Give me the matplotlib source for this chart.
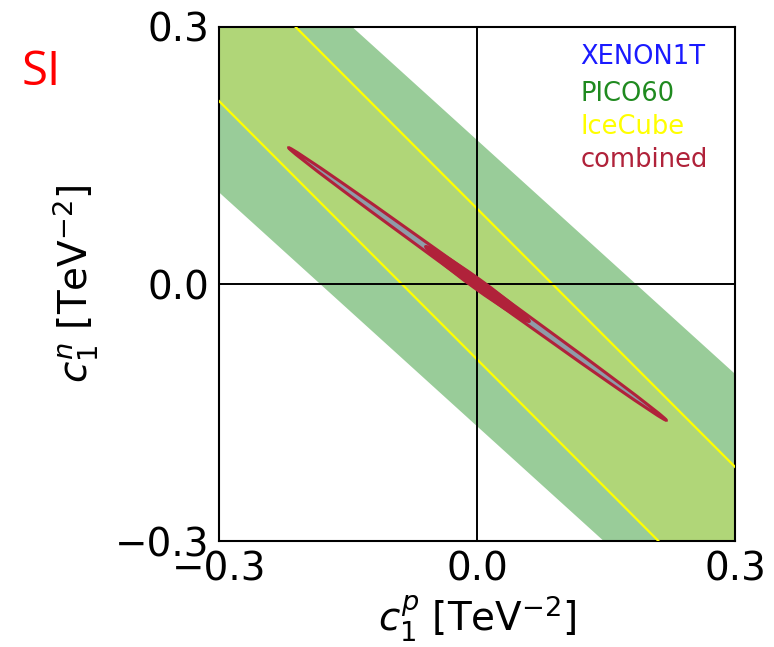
import numpy as np
import matplotlib.pyplot as plt
from matplotlib.patches import Ellipse

# limits (TeV^-2)
lim = [-0.3, 0.3]
ticks = [-0.3, 0.0, 0.3]

# PICO60 band: c_n = slope * c_p + b, b between the two edges
pico_slope = -0.91
pico_edges = [-0.166, 0.168]

# IceCube lines
ice_slope = -1.005
ice_edges = [-0.088, 0.088]

# combined region: tips of the thin ellipse, half width, solid core extent
comb_tip1 = (-0.219, 0.159)
comb_tip2 = (0.220, -0.159)
comb_halfwidth = 0.0048
comb_core = 0.075

labels = ['XENON1T', 'PICO60', 'IceCube', 'combined']
label_cols = ['#1a1aff', '#1f8a1f', '#ffff00', '#b0223a']

fig = plt.figure(figsize=(7.74, 6.47), dpi=100)
ax = fig.add_axes([0.283, 0.1638, 0.6667, 0.7945])

x = np.array(lim)
ax.fill_between(x, pico_slope * x + pico_edges[0], pico_slope * x + pico_edges[1],
                color='#99cc99', lw=0, zorder=1)
ax.fill_between(x, ice_slope * x + ice_edges[0], ice_slope * x + ice_edges[1],
                color='#b0d678', lw=0, zorder=2)
for b in ice_edges:
    ax.plot(x, ice_slope * x + b, color='#ffff00', lw=1.6, zorder=3)

ax.axhline(0, color='k', lw=1.4, zorder=4)
ax.axvline(0, color='k', lw=1.4, zorder=4)

cx = (comb_tip1[0] + comb_tip2[0]) / 2
cy = (comb_tip1[1] + comb_tip2[1]) / 2
dx = comb_tip2[0] - comb_tip1[0]
dy = comb_tip2[1] - comb_tip1[1]
length = np.hypot(dx, dy)
ang = np.degrees(np.arctan2(dy, dx))
ax.add_patch(Ellipse((cx, cy), length, 2 * comb_halfwidth, angle=ang,
                     facecolor='#8e9ca8', edgecolor='#b0223a', lw=2.2, zorder=5))
ax.add_patch(Ellipse((cx, cy), 2 * comb_core, 2 * comb_halfwidth + 0.003, angle=ang,
                     facecolor='#b0223a', edgecolor='#b0223a', lw=1.5, zorder=6))

ax.set_xlim(lim)
ax.set_ylim(lim)
ax.set_xticks(ticks)
ax.set_yticks(ticks)
ax.tick_params(length=0, labelsize=28, pad=7)
for s in ax.spines.values():
    s.set_linewidth(1.5)

ax.set_xlabel(r'$c_1^p$ [TeV$^{-2}$]', fontsize=28, labelpad=4)
ax.set_ylabel(r'$c_1^n$ [TeV$^{-2}$]', fontsize=28, labelpad=10)

ys = [0.942, 0.870, 0.805, 0.741]
for lab, c, yy in zip(labels, label_cols, ys):
    ax.text(0.70, yy, lab, color=c, fontsize=18.5, transform=ax.transAxes,
            va='center', ha='left', zorder=7)

fig.text(0.028, 0.889, 'SI', color='red', fontsize=34, family='Open Sans', va='center')

fig.savefig('out.png', dpi=100)
